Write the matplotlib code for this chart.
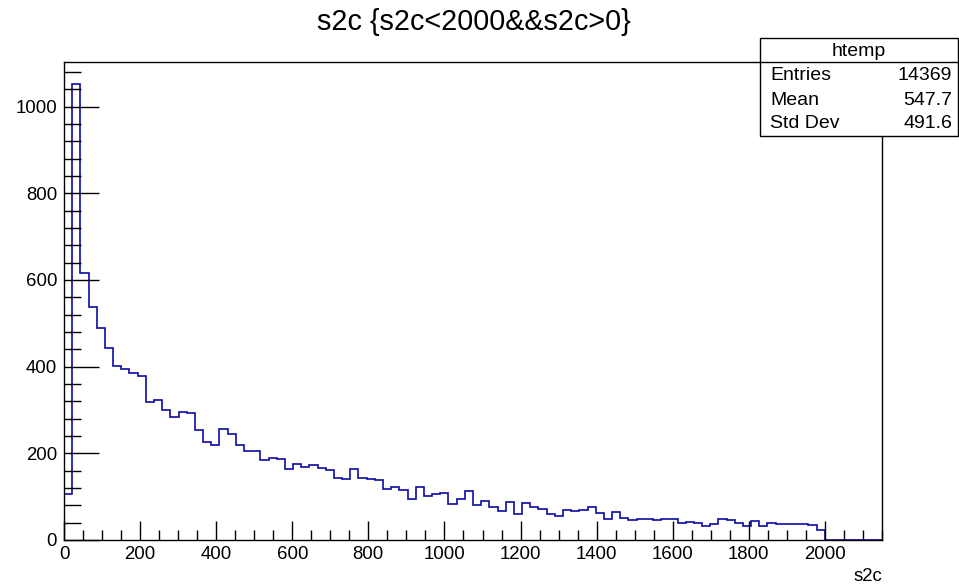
import numpy as np
import matplotlib
matplotlib.use("Agg")
import matplotlib.pyplot as plt
from matplotlib.patches import Rectangle
from matplotlib.lines import Line2D

plt.rcParams['font.family'] = ['Liberation Sans', 'DejaVu Sans']

title = "s2c {s2c<2000&&s2c>0}"
x_label = "s2c"
x_range = (0, 2150)
n_bins = 100
counts = [
    107, 1052, 617, 538, 489, 444, 402, 395, 386, 379,
    319, 322, 300, 284, 296, 293, 253, 227, 220, 255,
    244, 220, 206, 206, 184, 189, 187, 163, 176, 168,
    173, 167, 161, 144, 141, 163, 144, 141, 138, 117,
    122, 115, 94, 122, 102, 107, 108, 83, 94, 112,
    81, 91, 77, 67, 88, 61, 85, 75, 71, 59,
    56, 69, 67, 70, 75, 62, 48, 65, 51, 46,
    48, 48, 45, 48, 48, 39, 41, 40, 32, 38,
    48, 45, 40, 32, 44, 32, 40, 38, 38, 38,
    38, 35, 24, 0, 0, 0, 0, 0, 0, 0,
]
stats_name = "htemp"
stats_labels = ["Entries", "Mean", "Std Dev"]
stats_values = ["14369", "547.7", "491.6"]

W, H = 959, 585
fig = plt.figure(figsize=(W / 100, H / 100), dpi=100)
L, R, T, B = 64, 882, 62, 540
ax = fig.add_axes([L / W, (H - B) / H, (R - L) / W, (B - T) / H])

edges = np.linspace(x_range[0], x_range[1], n_bins + 1)
ax.stairs(counts, edges, color='#0a0aa6', linewidth=1.2, baseline=0, zorder=1.5)

ax.set_xlim(*x_range)
ax.set_ylim(0, 1103)

ax.set_xticks(np.arange(0, 2001, 200))
ax.set_xticks(np.arange(0, 2151, 50), minor=True)
ax.set_yticks(np.arange(0, 1001, 200))
ax.set_yticks(np.arange(0, 1101, 40), minor=True)

for s in ax.spines.values():
    s.set_linewidth(1.0)
    s.set_color('black')
    s.set_zorder(3)

ax.tick_params(axis='x', which='major', direction='in', length=14, width=1.0,
               labelsize=13.4, pad=4, top=False)
ax.tick_params(axis='x', which='minor', direction='in', length=7, width=1.0, top=False)
ax.tick_params(axis='y', which='major', direction='in', length=25, width=1.0,
               labelsize=13.4, pad=5, right=False)
ax.tick_params(axis='y', which='minor', direction='in', length=12.5, width=1.0, right=False)

ax.set_xlabel(x_label, fontsize=13.4, loc='right', labelpad=4)

fig.text(474 / W, 1 - 22 / H, title, ha='center', va='center', fontsize=20.7)

# stats box (pixel coordinates -> figure fraction)
bx0, bx1, by0, by1 = 760, 958, 38, 136
fig.add_artist(Rectangle((bx0 / W, 1 - by1 / H), (bx1 - bx0) / W, (by1 - by0) / H,
                         transform=fig.transFigure, facecolor='white',
                         edgecolor='black', linewidth=1.0, zorder=10))
fig.add_artist(Line2D([bx0 / W, bx1 / W], [1 - 62 / H, 1 - 62 / H],
                      transform=fig.transFigure, color='black', linewidth=1.0, zorder=11))
fig.text((bx0 + bx1) / 2 / W, 1 - 51 / H, stats_name, ha='center', va='center',
         fontsize=14, zorder=12)
rows_y = [76, 100, 123]
for lab, val, yy in zip(stats_labels, stats_values, rows_y):
    fig.text(770 / W, 1 - yy / H, lab, ha='left', va='center', fontsize=14, zorder=12)
    fig.text(952 / W, 1 - yy / H, val, ha='right', va='center', fontsize=14, zorder=12)

fig.savefig("out.png", dpi=100)
